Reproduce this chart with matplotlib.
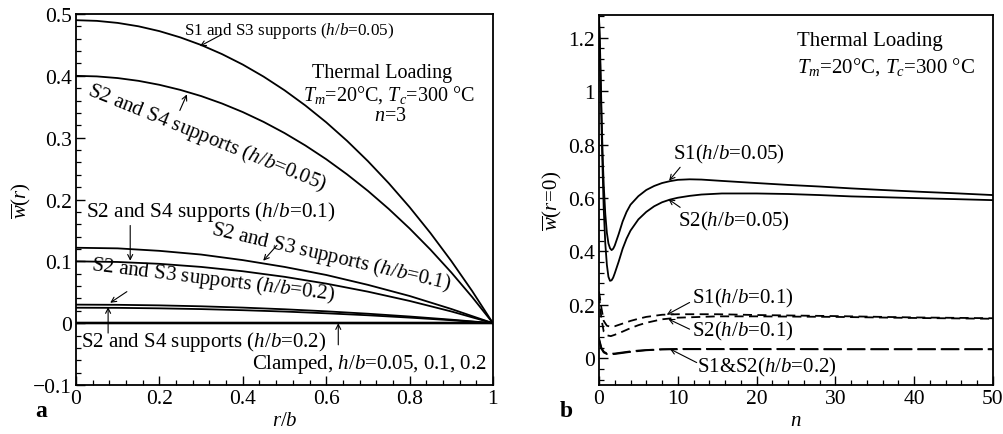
import matplotlib
matplotlib.use("Agg")
import matplotlib.pyplot as plt
from matplotlib.ticker import MultipleLocator, FuncFormatter

plt.rcParams['font.family'] = ['Liberation Serif', 'DejaVu Serif']
plt.rcParams['mathtext.fontset'] = 'custom'
plt.rcParams['mathtext.rm'] = 'Liberation Serif'
plt.rcParams['mathtext.it'] = 'Liberation Serif:italic'
plt.rcParams['mathtext.bf'] = 'Liberation Serif:bold'

# ---------------- data: panel a ----------------
r_fine = [0.0, 0.05, 0.1, 0.15, 0.2, 0.25, 0.3, 0.35, 0.4, 0.45, 0.5, 0.55, 0.6,
          0.65, 0.7, 0.75, 0.8, 0.85, 0.9, 0.95, 1.0]
w_S1S3_005 = [0.490, 0.4889, 0.4856, 0.4801, 0.4723, 0.4622, 0.4499, 0.4352, 0.4182,
              0.3987, 0.3767, 0.3521, 0.3249, 0.2949, 0.2621, 0.2264, 0.1877, 0.1458,
              0.1006, 0.0521, 0.0]
w_S2S4_005 = [0.400, 0.3991, 0.3964, 0.3919, 0.3855, 0.3773, 0.3673, 0.3553, 0.3414,
              0.3255, 0.3075, 0.2874, 0.2652, 0.2407, 0.2140, 0.1848, 0.1532, 0.1190,
              0.0821, 0.0424, 0.0]
r = [0.0, 0.1, 0.2, 0.3, 0.4, 0.5, 0.6, 0.7, 0.8, 0.9, 1.0]
w_S2S3_01 = [0.122, 0.121, 0.117, 0.111, 0.102, 0.091, 0.078, 0.062, 0.044, 0.023, 0.0]
w_S2S4_01 = [0.100, 0.099, 0.096, 0.091, 0.084, 0.075, 0.064, 0.051, 0.036, 0.019, 0.0]
w_S2S3_02 = [0.030, 0.0297, 0.0288, 0.0273, 0.0252, 0.0225, 0.0192, 0.0153, 0.0108, 0.0057, 0.0]
w_S2S4_02 = [0.025, 0.0248, 0.0240, 0.0228, 0.0210, 0.0188, 0.0160, 0.0128, 0.0090, 0.0048, 0.0]
w_clamped = [0.0, 0.0, 0.0, 0.0, 0.0, 0.0, 0.0, 0.0, 0.0, 0.0, 0.0]

# ---------------- data: panel b ----------------
n_a = [0, 0.1, 0.2, 0.3, 0.4, 0.5, 0.6, 0.8, 1.0, 1.2, 1.4, 1.6, 1.8, 2.0, 2.5, 3.0,
       3.5, 4, 5, 6, 7, 8, 9, 10, 11.5, 13, 15.6, 20, 24, 28, 32, 36, 41, 45, 50]
w_S1_005 = [1.28, 1.20, 1.08, 0.95, 0.83, 0.73, 0.65, 0.54, 0.47, 0.43, 0.412, 0.405,
            0.410, 0.422, 0.465, 0.512, 0.548, 0.575, 0.607, 0.630, 0.645, 0.656,
            0.663, 0.668, 0.670, 0.669, 0.664, 0.656, 0.649, 0.643, 0.636, 0.630,
            0.623, 0.618, 0.611]
w_S2_005 = [1.27, 1.17, 1.04, 0.90, 0.77, 0.66, 0.56, 0.43, 0.35, 0.305, 0.290, 0.292,
            0.302, 0.318, 0.362, 0.410, 0.448, 0.478, 0.520, 0.548, 0.569, 0.584,
            0.594, 0.601, 0.608, 0.613, 0.617, 0.617, 0.615, 0.611, 0.606, 0.603,
            0.599, 0.596, 0.592]
n_b = [0, 0.3, 0.6, 1.0, 1.5, 2, 3, 4, 5, 6, 8, 10, 15, 20, 30, 40, 50]
w_S1_01 = [0.25, 0.19, 0.14, 0.122, 0.118, 0.120, 0.130, 0.140, 0.148, 0.155, 0.163,
           0.165, 0.165, 0.162, 0.158, 0.153, 0.150]
w_S2_01 = [0.24, 0.15, 0.10, 0.086, 0.083, 0.088, 0.100, 0.113, 0.124, 0.133, 0.146,
           0.152, 0.157, 0.157, 0.155, 0.151, 0.148]
w_S1_02 = [0.075, 0.040, 0.025, 0.018, 0.017, 0.018, 0.022, 0.026, 0.029, 0.031, 0.034,
           0.035, 0.035, 0.035, 0.034, 0.034, 0.034]
w_S2_02 = [0.070, 0.036, 0.022, 0.016, 0.015, 0.016, 0.020, 0.024, 0.027, 0.030, 0.033,
           0.034, 0.034, 0.034, 0.034, 0.034, 0.034]

FS = 15
LW = 1.3

fig = plt.figure(figsize=(10.04, 4.35), dpi=100)
axA = fig.add_axes([0.0757, 0.1126, 0.4153, 0.8529])
axB = fig.add_axes([0.5966, 0.1126, 0.3924, 0.8506])


def fmt(v, pos):
    s = '%g' % round(v, 6)
    return s.replace('-', '\u2212')


for ax in (axA, axB):
    for sp in ax.spines.values():
        sp.set_linewidth(1.3)
    ax.tick_params(which='both', direction='in', top=False, right=False,
                   labelsize=15.5, pad=3)
    ax.tick_params(which='major', length=6.5, width=1.0)
    ax.tick_params(which='minor', length=3.5, width=0.9)
    ax.xaxis.set_major_formatter(FuncFormatter(fmt))
    ax.yaxis.set_major_formatter(FuncFormatter(fmt))

arrow = dict(arrowstyle='->', lw=0.8, color='black', shrinkA=0, shrinkB=0,
             mutation_scale=9)

# ---------------- panel a ----------------
axA.plot(r_fine, w_S1S3_005, color='black', lw=LW)
axA.plot(r_fine, w_S2S4_005, color='black', lw=LW)
for w in (w_S2S3_01, w_S2S4_01, w_S2S3_02, w_S2S4_02):
    axA.plot(r, w, color='black', lw=LW)
for _ in range(3):
    axA.plot(r, w_clamped, color='black', lw=LW + 0.3)

axA.set_xlim(0, 1)
axA.set_ylim(-0.1, 0.5)
axA.xaxis.set_major_locator(MultipleLocator(0.2))
axA.xaxis.set_minor_locator(MultipleLocator(0.04))
axA.yaxis.set_major_locator(MultipleLocator(0.1))
axA.yaxis.set_minor_locator(MultipleLocator(0.02))
axA.set_xlabel(r'$r/b$', fontsize=FS, labelpad=2)
axA.set_ylabel(r'$\overline{w}(r)$', fontsize=FS, labelpad=0)

axA.text(0.259, 0.474, r'S1 and S3 supports ($h/b$=0.05)', fontsize=12.3,
         ha='left', va='center')
axA.annotate('', xy=(0.297, 0.448), xytext=(0.350, 0.467), arrowprops=arrow)

axA.text(0.735, 0.406, 'Thermal Loading', fontsize=14.5, ha='center', va='center')
axA.text(0.75, 0.371, r'$T_m$=20°C, $T_c$=300 °C', fontsize=14.5, ha='center', va='center')
axA.text(0.755, 0.336, r'$n$=3', fontsize=14.5, ha='center', va='center')

axA.text(0.314, 0.301, r'S2 and S4 supports ($h/b$=0.05)', fontsize=FS,
         ha='center', va='center', rotation=-22, rotation_mode='anchor')
axA.annotate('', xy=(0.266, 0.370), xytext=(0.249, 0.344), arrowprops=arrow)

axA.text(0.024, 0.182, r'S2 and S4 supports ($h/b$=0.1)', fontsize=15.3,
         ha='left', va='center')
axA.annotate('', xy=(0.13, 0.101), xytext=(0.13, 0.158), arrowprops=arrow)

axA.text(0.612, 0.109, r'S2 and S3 supports ($h/b$=0.1)', fontsize=FS,
         ha='center', va='center', rotation=-13, rotation_mode='anchor')
axA.annotate('', xy=(0.449, 0.101), xytext=(0.482, 0.126), arrowprops=arrow)

axA.text(0.33, 0.071, r'S2 and S3 supports ($h/b$=0.2)', fontsize=FS,
         ha='center', va='center', rotation=-7, rotation_mode='anchor')
axA.annotate('', xy=(0.082, 0.033), xytext=(0.122, 0.051), arrowprops=arrow)

axA.text(0.012, -0.029, r'S2 and S4 supports ($h/b$=0.2)', fontsize=FS,
         ha='left', va='center')
axA.annotate('', xy=(0.077, 0.026), xytext=(0.077, -0.016), arrowprops=arrow)
axA.annotate('', xy=(0.629, 0.0), xytext=(0.629, -0.035), arrowprops=arrow)

axA.text(0.986, -0.066, r'Clamped, $h/b$=0.05, 0.1, 0.2', fontsize=FS,
         ha='right', va='center')

# ---------------- panel b ----------------
axB.plot(n_a, w_S1_005, color='black', lw=LW)
axB.plot(n_a, w_S2_005, color='black', lw=LW)
axB.plot(n_b, w_S1_01, color='black', lw=LW, dashes=(5, 3))
axB.plot(n_b, w_S2_01, color='black', lw=LW, dashes=(5, 3))
axB.plot(n_b, w_S1_02, color='black', lw=LW, dashes=(10, 3))
axB.plot(n_b, w_S2_02, color='black', lw=LW, dashes=(10, 3))

axB.set_xlim(0, 50)
axB.set_ylim(-0.1, 1.285)
axB.xaxis.set_major_locator(MultipleLocator(10))
axB.xaxis.set_minor_locator(MultipleLocator(2))
axB.yaxis.set_major_locator(MultipleLocator(0.2))
axB.yaxis.set_minor_locator(MultipleLocator(0.04))
axB.set_xlabel(r'$n$', fontsize=FS, labelpad=2)
axB.set_ylabel(r'$\overline{w}(r\!=\!0)$', fontsize=FS, labelpad=3)

axB.text(25.1, 1.19, 'Thermal Loading', fontsize=FS, ha='left', va='center')
axB.text(25.1, 1.095, r'$T_m$=20°C, $T_c$=300 °C', fontsize=FS, ha='left', va='center')

axB.text(9.4, 0.765, r'S1($h/b$=0.05)', fontsize=FS, ha='left', va='center')
axB.annotate('', xy=(8.9, 0.665), xytext=(10.3, 0.715), arrowprops=arrow)
axB.text(10.0, 0.517, r'S2($h/b$=0.05)', fontsize=FS, ha='left', va='center')
axB.annotate('', xy=(8.8, 0.596), xytext=(10.3, 0.565), arrowprops=arrow)
axB.text(11.8, 0.229, r'S1($h/b$=0.1)', fontsize=FS, ha='left', va='center')
axB.annotate('', xy=(8.6, 0.163), xytext=(11.5, 0.209), arrowprops=arrow)
axB.text(11.8, 0.105, r'S2($h/b$=0.1)', fontsize=FS, ha='left', va='center')
axB.annotate('', xy=(8.8, 0.147), xytext=(11.5, 0.109), arrowprops=arrow)
axB.text(12.4, -0.03, r'S1&S2($h/b$=0.2)', fontsize=FS, ha='left', va='center')
axB.annotate('', xy=(9.0, 0.035), xytext=(12.4, -0.016), arrowprops=arrow)

fig.text(35 / 1004, 1 - 412 / 435, 'a', fontsize=17, fontweight='bold',
         ha='left', va='center')
fig.text(560 / 1004, 1 - 412 / 435, 'b', fontsize=17, fontweight='bold',
         ha='left', va='center')

fig.savefig('out.png', dpi=100)
